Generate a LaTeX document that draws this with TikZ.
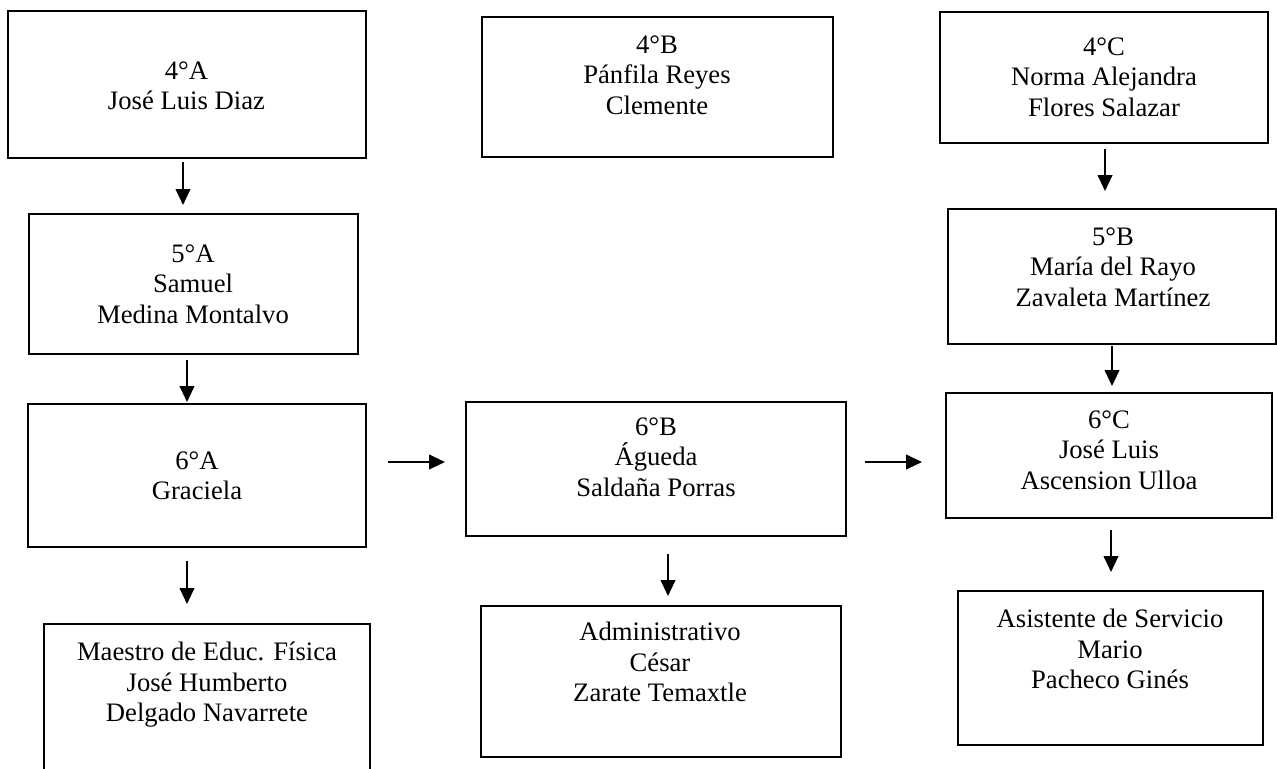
\documentclass[tikz,border=0pt]{standalone}
\usepackage{fontspec}
\setmainfont{Liberation Serif}
\usetikzlibrary{arrows.meta}
\tikzset{
  x=0.75pt, y=-0.75pt,
  box/.style={draw, line width=1.5pt, rectangle, inner sep=0pt},
  txt/.style={anchor=north, inner sep=0pt, align=center, font=\fontsize{20pt}{22.9pt}\selectfont},
  arr/.style={line width=1.5pt, -{Triangle[width=11pt,length=12pt]}}
}
\newcommand\bx[5]{\node[box,minimum width=#4*0.75pt,minimum height=#5*0.75pt] (#1) at (#2,#3) {};}
\begin{document}
\begin{tikzpicture}
\useasboundingbox (0,0) rectangle (1277,768);
% boxes
\bx{a4}{187}{84.5}{358}{147}
\bx{b4}{657.5}{87}{351}{140}
\bx{c4}{1104}{77.5}{328}{131}
\bx{a5}{193.5}{284}{329}{140}
\bx{b5}{1112}{276.5}{328}{135}
\bx{a6}{197}{475.5}{338}{143}
\bx{b6}{656}{469}{380}{134}
\bx{c6}{1109}{455.5}{326}{125}
\bx{ef}{207}{704.5}{326}{161}
\bx{ad}{661}{681.5}{360}{151}
\bx{as}{1110.5}{668}{305}{154}
% texts
\node[txt] (a4t) at (186.5,61) {4°A\\José Luis Diaz};
\node[txt] (b4t) at (657,35) {4°B\\Pánfila Reyes\\Clemente};
\node[txt] (c4t) at (1104,37) {4°C\\Norma Alejandra\\Flores Salazar};
\node[txt] (a5t) at (193,244) {5°A\\Samuel\\Medina Montalvo};
\node[txt] (b5t) at (1113,227) {5°B\\María del Rayo\\Zavaleta Martínez};
\node[txt] (a6t) at (197,451) {6°A\\Graciela};
\node[txt] (b6t) at (656,417) {6°B\\Águeda\\Saldaña Porras};
\node[txt] (c6t) at (1109,410) {6°C\\José Luis\\Ascension Ulloa};
\node[txt] (eft) at (207,642) {Maestro de Educ. Física\\José Humberto\\Delgado Navarrete};
\node[txt] (adt) at (660,622) {Administrativo\\César\\Zarate Temaxtle};
\node[txt] (ast) at (1110,609) {Asistente de Servicio\\Mario\\Pacheco Ginés};
% guide coordinates for connector lines
\coordinate (xa1) at (183,0);
\coordinate (xa2) at (187,0);
\coordinate (xb1) at (668,0);
\coordinate (xc1) at (1105,0);
\coordinate (xc2) at (1112,0);
\coordinate (xc3) at (1111,0);
\coordinate (yh) at (0,462);
% connectors
\draw[arr, shorten <=2.25pt, shorten >=6pt] (a4.south -| xa1) -- (a5.north -| xa1);
\draw[arr, shorten <=3.75pt, shorten >=0.75pt] (a5.south -| xa2) -- (a6.north -| xa2);
\draw[arr, shorten <=9.75pt, shorten >=14.25pt] (a6.south -| xa2) -- (ef.north -| xa2);
\draw[arr, shorten <=12.75pt, shorten >=6.75pt] (b6.south -| xb1) -- (ad.north -| xb1);
\draw[arr, shorten <=3.75pt, shorten >=12.75pt] (c4.south -| xc1) -- (b5.north -| xc1);
\draw[arr, shorten <=0.75pt, shorten >=4.5pt] (b5.south -| xc2) -- (c6.north -| xc2);
\draw[arr, shorten <=8.25pt, shorten >=13.5pt] (c6.south -| xc3) -- (as.north -| xc3);
\draw[arr, shorten <=15.75pt, shorten >=15pt] (a6.east |- yh) -- (b6.west |- yh);
\draw[arr, shorten <=13.5pt, shorten >=17.25pt] (b6.east |- yh) -- (c6.west |- yh);
\end{tikzpicture}
\end{document}
